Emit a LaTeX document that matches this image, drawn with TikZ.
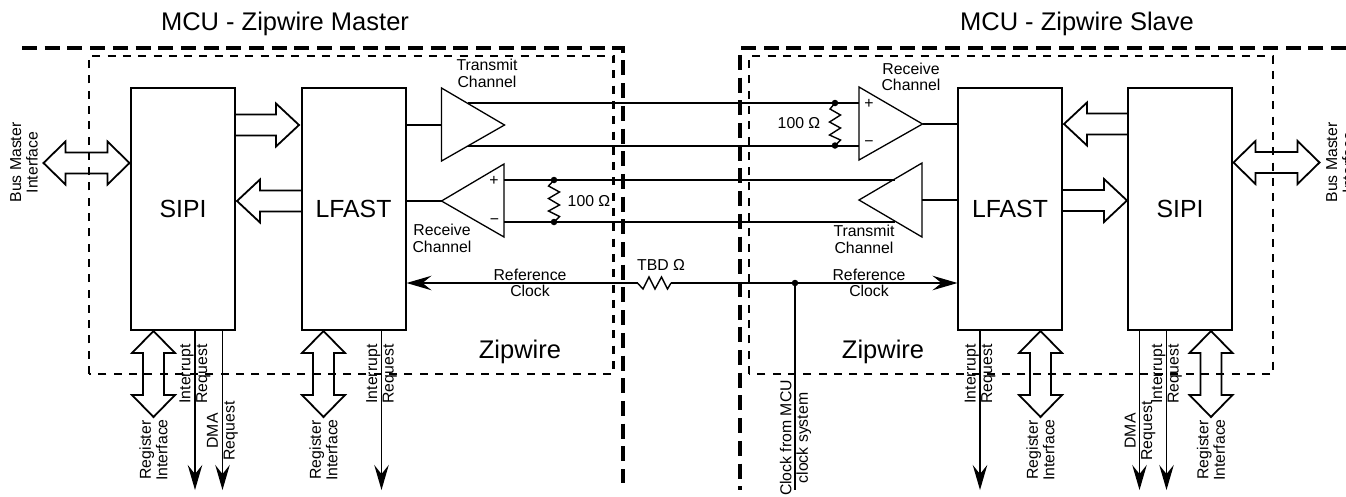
\documentclass[tikz,border=0pt]{standalone}
\usepackage{fontspec}
\setmainfont{Liberation Sans}
\usetikzlibrary{arrows.meta}
\tikzset{
  x=1pt,y=-1pt,
  block/.style={draw,line width=2pt,minimum width=104pt,minimum height=242pt,font=\fontsize{24.8}{28}\selectfont,inner sep=0pt},
  big/.style={font=\fontsize{25.5}{28}\selectfont,inner sep=0pt},
  lab/.style={font=\fontsize{15.8}{16.6}\selectfont,align=center,inner sep=0pt},
  vlab/.style={lab,rotate=90},
  wire/.style={line width=1.4pt},
  amp/.style={line width=1.3pt,line join=miter},
  fat/.style={line width=1.8pt,line join=miter},
  outer/.style={line width=4pt,dash pattern=on 15pt off 7.7pt},
  inner/.style={line width=2.7pt,dash pattern=on 8pt off 7.3pt},
  tip/.style={wire,-{Stealth[length=25pt,width=14.5pt,inset=9pt]},shorten >=0pt},
  dotn/.style={circle,fill,inner sep=0pt,minimum size=6.5pt}
}
% double block arrow centred at (#1,#2), rotated #3
\newcommand{\dblarrow}[3]{\draw[fat,shift={(#1,#2)},rotate=#3] (-43,0) -- (-21,-21.5) -- (-21,-10.5) -- (21,-10.5) -- (21,-21.5) -- (43,0) -- (21,21.5) -- (21,10.5) -- (-21,10.5) -- (-21,21.5) -- cycle;}
% single block arrow: tail x #1, tip x #2, y #3, direction sign #4
\newcommand{\onearrow}[4]{\draw[fat] (#1,#3-10.5) -- (#2-#4*23,#3-10.5) -- (#2-#4*23,#3-21.5) -- (#2,#3) -- (#2-#4*23,#3+21.5) -- (#2-#4*23,#3+10.5) -- (#1,#3+10.5);}
\begin{document}
\begin{tikzpicture}
\useasboundingbox (0,0) rectangle (1346,496);
% boundaries
\draw[outer] (22,48) -- (622.5,48) -- (622.5,483);
\draw[outer] (1346,48) -- (740,48) -- (740,490);
\draw[inner] (89,374) -- (89,56) -- (613.5,56) -- (613.5,374) -- cycle;
\draw[inner] (749,374) -- (749,56) -- (1273,56) -- (1273,374) -- cycle;
% titles
\node[big] (t1) at (285,24) {MCU - Zipwire Master};
\node[big] (t2) at (1077,24) {MCU - Zipwire Slave};
\node[big] (z1) at (520,352) {Zipwire};
\node[big] (z2) at (883,352) {Zipwire};
% blocks
\node[block] (sipiL) at (183,209) {SIPI};
\node[block] (lfastL) at (353.5,209) {LFAST};
\node[block] (lfastR) at (1010,209) {LFAST};
\node[block] (sipiR) at (1180,209) {SIPI};
% amplifier triangles
\draw[amp] (441.5,88) coordinate (txLa) -- (504.5,125) coordinate (txLo) -- (441.5,161) coordinate (txLb) -- cycle;
\draw[amp] (859,87) coordinate (rxRa) -- (922.5,124) coordinate (rxRo) -- (859,160) coordinate (rxRb) -- cycle;
\draw[amp] (504,164) coordinate (rxLa) -- (441.5,201) coordinate (rxLo) -- (504,237) coordinate (rxLb) -- cycle;
\draw[amp] (922,163) coordinate (txRa) -- (859,200) coordinate (txRo) -- (922,237) coordinate (txRb) -- cycle;
% amp to block wires
\coordinate (a1) at (441.5,125); \coordinate (a2) at (405,125);
\draw[wire] (a2) -- (a1);
\coordinate (a3) at (405,201); \draw[wire] (a3) -- (rxLo);
\coordinate (a4) at (958,124); \draw[wire] (rxRo) -- (a4);
\coordinate (a5) at (922,200); \coordinate (a6) at (958,200); \draw[wire] (a5) -- (a6);
% differential pairs
\coordinate (w1a) at (468,103); \coordinate (w1b) at (859,103);
\coordinate (w2a) at (468,146); \coordinate (w2b) at (859,146);
\coordinate (w3a) at (504,180); \coordinate (w3b) at (895,180);
\coordinate (w4a) at (504,222); \coordinate (w4b) at (895,222);
\draw[wire] (w1a) -- (w1b); \draw[wire] (w2a) -- (w2b);
\draw[wire] (w3a) -- (w3b); \draw[wire] (w4a) -- (w4b);
% terminators
\node[dotn] (d1) at (835,103) {}; \node[dotn] (d2) at (835,145.5) {};
\node[dotn] (d3) at (554,180) {}; \node[dotn] (d4) at (554,222) {};
\draw[wire] (d1.center) -- (830,109) -- (840.5,115) -- (829.5,122) -- (840.5,128) -- (829.5,135) -- (840.5,140) -- (d2.center);
\draw[wire] (d3.center) -- (548.5,186) -- (559.5,192) -- (548.5,198.5) -- (559.5,205) -- (548.5,211) -- (559.5,216.5) -- (d4.center);
\node[lab] (r1) at (799,123) {100 Ω};
\node[lab] (r2) at (589,201) {100 Ω};
\node[lab] at (869,103.5) (pl1) {+};
\node[lab] at (869,144) (mi1) {−};
\node[lab] at (494,181) (pl2) {+};
\node[lab] at (494.5,222) (mi2) {−};
% channel labels
\node[lab] (c1) at (487,73.5) {Transmit\\Channel};
\node[lab] (c2) at (911,77) {Receive\\Channel};
\node[lab] (c3) at (442,238.5) {Receive\\Channel};
\node[lab] (c4) at (864,239.5) {Transmit\\Channel};
% reference clock
\node[dotn] (ck) at (795,283) {};
\coordinate (rs) at (637.5,283); \coordinate (re) at (671,283);
\coordinate (lf) at (406.5,283); \coordinate (rf) at (957.5,283);
\draw[tip] (rs) -- (lf);
\draw[tip] (re) -- (rf);
\draw[wire] (rs) -- (643,289) -- (649,277) -- (655,289) -- (661.5,277) -- (667.5,289) -- (re);
\node[lab] (tbd) at (661,265) {TBD Ω};
\node[lab] (ref1) at (530,283) {Reference\\Clock};
\node[lab] (ref2) at (869,283) {Reference\\Clock};
\coordinate (ckend) at (795,490);
\draw[wire] (ck.center) -- (ckend);
\node[vlab] (cklab) at (795.5,438) {Clock from MCU\\clock system};
% block arrows
\onearrow{235}{299}{125}{1}
\onearrow{302}{237}{201}{-1}
\onearrow{1128}{1064}{124}{-1}
\onearrow{1062}{1127}{200.5}{1}
\dblarrow{86.5}{163}{0}
\dblarrow{1276.5}{162.5}{0}
\dblarrow{153.5}{374}{90}
\dblarrow{323.5}{374}{90}
\dblarrow{1040.5}{374}{90}
\dblarrow{1211}{374}{90}
% request arrows
\coordinate (q1) at (195,330); \coordinate (q1e) at (195,490);
\coordinate (q2) at (222.5,330); \coordinate (q2e) at (222.5,490);
\coordinate (q3) at (381.5,330); \coordinate (q3e) at (381.5,490);
\coordinate (q4) at (980,330); \coordinate (q4e) at (980,490);
\coordinate (q5) at (1139.5,330); \coordinate (q5e) at (1139.5,490);
\coordinate (q6) at (1166.5,330); \coordinate (q6e) at (1166.5,490);
\foreach \s/\e in {q1/q1e,q2/q2e,q3/q3e,q4/q4e,q5/q5e,q6/q6e} \draw[tip] (\s) -- (\e);
% rotated labels
\node[vlab] (bmL) at (24,162.5) {Bus Master\\Interface};
\node[vlab] (bmR) at (1340,162.5) {Bus Master\\Interface};
\node[vlab] (rg1) at (153.5,450) {Register\\Interface};
\node[vlab] (rg2) at (323.5,450) {Register\\Interface};
\node[vlab] (rg3) at (1040.5,450) {Register\\Interface};
\node[vlab] (rg4) at (1211,450) {Register\\Interface};
\node[vlab] (ir1) at (195,374) {Interrupt\\Request};
\node[vlab] (ir2) at (381.5,374) {Interrupt\\Request};
\node[vlab] (ir3) at (980,374) {Interrupt\\Request};
\node[vlab] (ir4) at (1166.5,374) {Interrupt\\Request};
\node[vlab] (dm1) at (222.5,431) {DMA\\Request};
\node[vlab] (dm2) at (1140,431) {DMA\\Request};
\end{tikzpicture}
\end{document}
